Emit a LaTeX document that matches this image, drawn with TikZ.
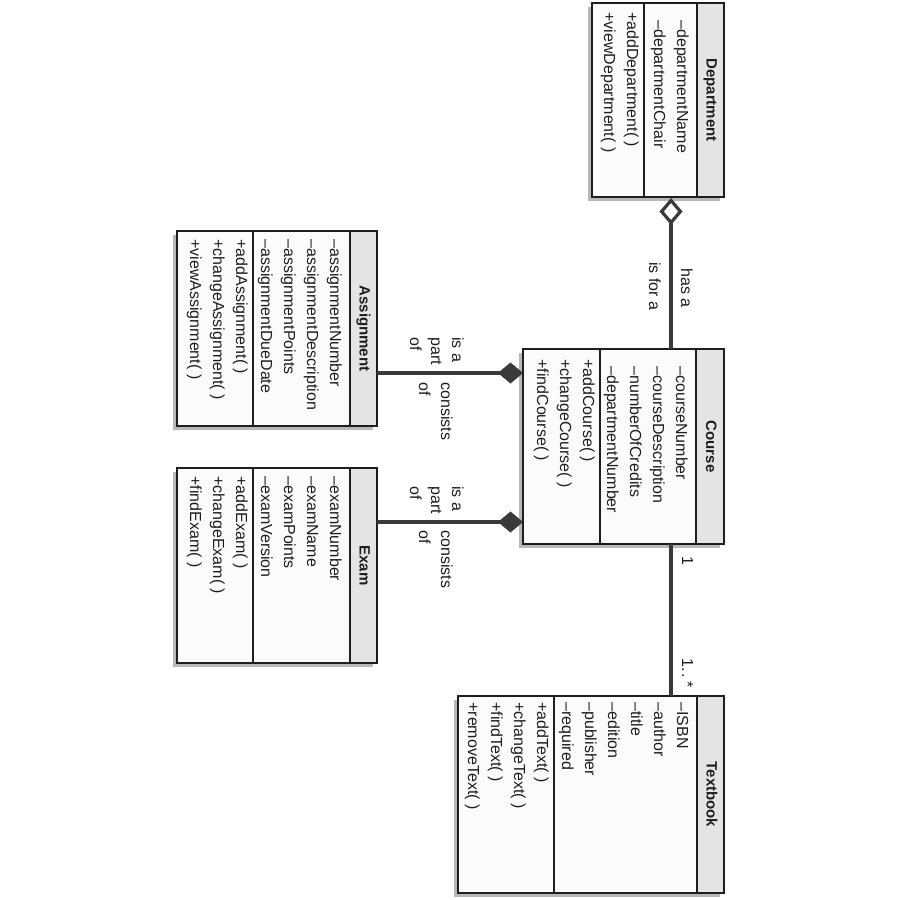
\documentclass[tikz,border=0pt]{standalone}
\usepackage{fontspec}
\setmainfont{Liberation Sans}
\usetikzlibrary{calc,arrows.meta}

\definecolor{inkc}{HTML}{1E1E1E}
\definecolor{linkc}{HTML}{3A3A3A}
\definecolor{bandc}{HTML}{E4E4E4}
\definecolor{paperc}{HTML}{FBFBFB}
\definecolor{shadec}{HTML}{B8B8B8}

\tikzset{
  classbox/.style={draw=inkc, line width=0.6pt, fill=paperc, inner sep=0pt, outer sep=0pt},
  band/.style={fill=bandc},
  rule/.style={draw=inkc, line width=0.6pt},
  cshadow/.style={fill=shadec},
  member/.style={inner sep=0pt, anchor=base west, text=inkc, font=\fontsize{8}{11.5}\selectfont},
  classname/.style={inner sep=0pt, text=inkc, font=\bfseries\fontsize{7.5}{9}\selectfont,
                    text height=5.5pt, text depth=1.6pt},
  rolelabel/.style={member},
  link/.style={draw=linkc, line width=2.2pt},
  aggregation/.style={link, {Diamond[open, length=13.5pt, width=11.5pt, line width=1.6pt]}-},
  composition/.style={link, -{Diamond[length=12.5pt, width=10.5pt]}},
}

% class box: name, a0, a1, b0, operations rule, title rule, b1, title
% (a runs along the text, b across it)
\newcommand\umlclass[8]{%
  \fill[cshadow] (#2+4,#4-4) rectangle (#3+4,#7-4);
  \node[classbox, minimum width={(#3-#2)*0.5pt}, minimum height={(#7-#4)*0.5pt}]
    (#1) at ({(#2+#3)/2},{(#4+#7)/2}) {};
  \fill[band] (#2,#6) rectangle (#3,#7);
  \draw[rule] (#2,#6) -- (#3,#6);
  \draw[rule] (#2,#5) -- (#3,#5);
  \draw[rule] (#2,#4) rectangle (#3,#7);
  \node[classname] (#1-name) at ({(#2+#3)/2},{(#6+#7)/2}) {#8};
}

% member lines: class name, tag, a start, first baseline, list
\newcommand\members[5]{%
  \foreach \m [count=\k] in {#5}
    \node[member] (#1-#2\k) at (#3,{#4-23*(\k-1)}) {\m};
}

\begin{document}
\begin{tikzpicture}[x=0.5pt, y=0.5pt]
  \fill[white] (0,0) rectangle (900,-900);
  \useasboundingbox (0,0) rectangle (900,-900);

  \begin{scope}[rotate=-90, transform shape]
    % Department
    \umlclass{dept}{3}{197}{592}{644}{697}{724}{Department}
    \members{dept}{a}{20}{677}{–departmentName,–departmentChair}
    \members{dept}{o}{12}{627}{+addDepartment( ),+viewDepartment( )}

    % Course
    \umlclass{course}{349}{544}{523}{600}{696}{724}{Course}
    \members{course}{a}{366}{676}{–courseNumber,–courseDescription,–numberOfCredits,–departmentNumber}
    \members{course}{o}{359}{583}{+addCourse( ),+changeCourse( ),+findCourse( )}

    % Assignment
    \umlclass{asg}{231}{426}{177}{253}{350}{377}{Assignment}
    \members{asg}{a}{239}{330}{–assignmentNumber,–assignmentDescription,–assignmentPoints,–assignmentDueDate}
    \members{asg}{o}{239}{236}{+addAssignment( ),+changeAssignment( ),+viewAssignment( )}

    % Exam
    \umlclass{exam}{468}{663}{177}{253}{350}{377}{Exam}
    \members{exam}{a}{476}{330}{–examNumber,–examName,–examPoints,–examVersion}
    \members{exam}{o}{476}{236}{+addExam( ),+changeExam( ),+findExam( )}

    % Textbook
    \umlclass{text}{696}{893}{458}{554}{697}{724}{Textbook}
    \members{text}{a}{702}{677}{–ISBN,–author,–title,–edition,–publisher,–required}
    \members{text}{o}{702}{537}{+addText( ),+changeText( ),+findText( ),+removeText( )}

    % associations
    \draw[aggregation] ($(dept.east)+(1,13)$) -- ($(course.west)+(0,47.5)$);
    \draw[composition] ($(asg.north)+(44.5,0)$) -- ($(course.south)+(-73.5,0)$);
    \draw[composition] ($(exam.north)+(-43.5,0)$) -- ($(course.south)+(75.5,0)$);
    \draw[link] ($(course.east)+(0,47.5)$) -- ($(text.west)+(0,80)$);

    % role names and multiplicities
    \node[rolelabel] (l-has) at (268,681) {has a};
    \node[rolelabel] (l-isfor) at (262,649) {is for a};

    \node[rolelabel] (l-ap1) at (337,452) {is a};
    \node[rolelabel] (l-ap2) at (337,431) {part};
    \node[rolelabel] (l-ap3) at (337,410) {of};
    \node[rolelabel] (l-ac1) at (382,441) {consists};
    \node[rolelabel] (l-ac2) at (382,419) {of};

    \node[rolelabel] (l-ep1) at (486,452) {is a};
    \node[rolelabel] (l-ep2) at (486,431) {part};
    \node[rolelabel] (l-ep3) at (486,410) {of};
    \node[rolelabel] (l-ec1) at (530,441) {consists};
    \node[rolelabel] (l-ec2) at (530,419) {of};

    \node[rolelabel] (m-one) at (556,682) {1};
    \node[rolelabel] (m-many) at (658,682) {1.\kern1pt.\kern1.5pt*};
  \end{scope}
\end{tikzpicture}
\end{document}
